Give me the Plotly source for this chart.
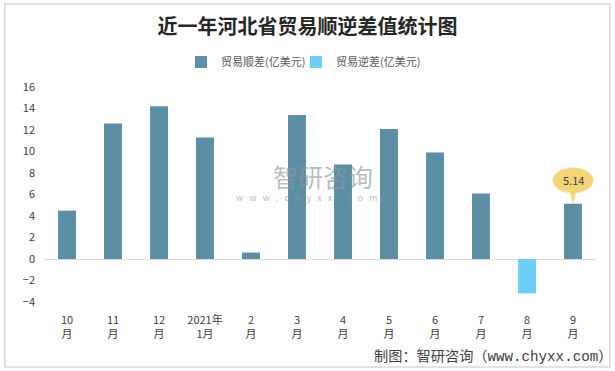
import plotly.graph_objects as go

categories = ["10<br>月", "11<br>月", "12<br>月", "2021年<br>1月", "2<br>月", "3<br>月",
              "4<br>月", "5<br>月", "6<br>月", "7<br>月", "8<br>月", "9<br>月"]
surplus = [4.5, 12.6, 14.2, 11.3, 0.6, 13.4, 8.8, 12.1, 9.9, 6.1, None, 5.14]
deficit = [None, None, None, None, None, None, None, None, None, None, -3.2, None]
y_ticks = [-4, -2, 0, 2, 4, 6, 8, 10, 12, 14, 16]

FONT = "Noto Sans CJK SC"
fig = go.Figure()
fig.add_trace(go.Bar(x=categories, y=surplus, name="贸易顺差(亿美元)",
                     marker=dict(color="#5C8FA6", line=dict(width=0)), width=0.39))
fig.add_trace(go.Bar(x=categories, y=deficit, name="贸易逆差(亿美元)",
                     marker=dict(color="#6ECFF6", line=dict(width=0)), width=0.39))
# invisible spacer legend entry so the last entry's text is not clipped
fig.add_trace(go.Scatter(x=[None], y=[None], mode="markers", name=" ",
                         marker=dict(color="rgba(0,0,0,0)", size=1, line=dict(width=0)),
                         hoverinfo="skip", showlegend=True))

# callout on last bar
idx = len(categories) - 1
val = surplus[idx]
fig.add_shape(type="circle", xref="x", yref="y",
              x0=idx - 0.44, x1=idx + 0.44, y0=val + 1.0, y1=val + 3.35,
              fillcolor="#F6D47A", line=dict(color="#F2E3BA", width=1), layer="above")
fig.add_shape(type="path", xref="x", yref="y",
              path=f"M {idx-0.07} {val+1.15} L {idx} {val} L {idx+0.07} {val+1.15} Z",
              fillcolor="#F6D47A", line=dict(width=0), layer="above")
fig.add_annotation(x=idx, y=val + 2.2, xref="x", yref="y", text=f"{val:.2f}",
                   showarrow=False, font=dict(family=FONT, size=11, color="#404040"))

# watermark
fig.add_annotation(x=0.505, y=0.585, xref="paper", yref="paper", text="智研咨询",
                   showarrow=False, font=dict(family=FONT, size=25, color="rgba(140,150,160,0.65)"))
fig.add_annotation(x=0.476, y=0.488, xref="paper", yref="paper",
                   text="w   w   w   .   c   h   y   x   x   .   c   o   m",
                   showarrow=False, font=dict(family=FONT, size=9, color="rgba(140,150,160,0.65)"))

# footer
fig.add_annotation(x=1.032, y=-0.30, xref="paper", yref="paper", xanchor="right",
                   yanchor="bottom", text="制图：智研咨询（www.chyxx.com）", showarrow=False,
                   font=dict(family="Liberation Mono, Noto Sans CJK SC", size=14.2, color="#404040"))

# outer border
fig.add_shape(type="rect", xref="paper", yref="paper", x0=-0.071, x1=1.025, y0=-0.302, y1=1.386,
              line=dict(color="#D9D9D9", width=1.5))

fig.update_layout(
    width=615, height=371,
    margin=dict(l=44, r=19, t=87, b=69, autoexpand=False),
    paper_bgcolor="white", plot_bgcolor="white",
    barmode="relative",
    title=dict(text="<b>近一年河北省贸易顺逆差值统计图</b>", x=0.5, xref="container",
               y=1 - 27 / 371, yanchor="middle", font=dict(family=FONT, size=20, color="#262626")),
    legend=dict(orientation="h", x=(181 - 44) / 552, xref="paper", xanchor="left",
                y=1 - 62 / 371, yref="container", yanchor="middle",
                font=dict(family=FONT, size=11, color="#595959"),
                entrywidth=70, traceorder="normal"),
    font=dict(family=FONT, size=11, color="#404040"),
    showlegend=True,
)
fig.update_xaxes(showgrid=False, showline=False, zeroline=False, ticks="", tickangle=0,
                 tickfont=dict(size=11, color="#404040"), ticklabelstandoff=10)
fig.update_yaxes(range=[-4, 16], tickvals=y_ticks, showgrid=False, showline=False,
                 zeroline=True, zerolinecolor="#D9D9D9", zerolinewidth=1,
                 tickfont=dict(size=11, color="#404040"), ticklabelstandoff=8)

fig.write_html("out.html", config={"displayModeBar": False},
               post_script="document.body.style.margin='0px';")
